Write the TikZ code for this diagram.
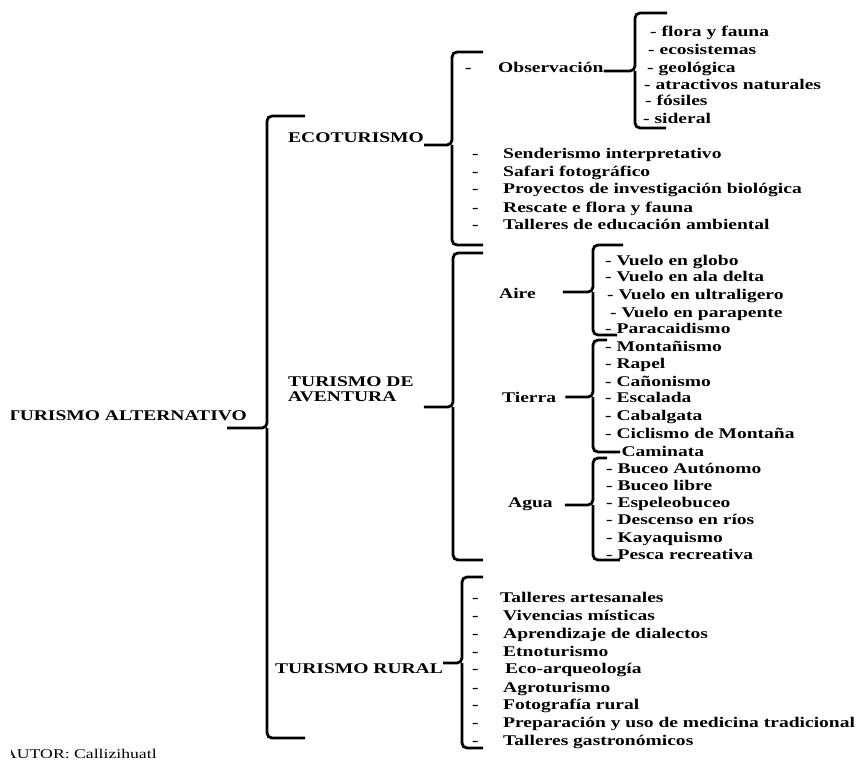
\documentclass[tikz,border=0pt]{standalone}
\usepackage{fontspec}
\setmainfont{Liberation Serif}[FakeStretch=1.32]

\begin{document}
\begin{tikzpicture}[x=1pt, y=-1pt,
  every node/.style={inner sep=0pt, anchor=base west,
    font=\fontsize{14.8}{15}\selectfont\bfseries},
  curly/.style={line width=2.8pt, rounded corners=5pt}]
  \useasboundingbox (0,0) rectangle (857,760);
  \clip (11,0) rectangle (857,760);

  % Root and main branches
  \node[anchor=base east] (root) at (247,420) {TURISMO ALTERNATIVO};
  \node (eco) at (288,142) {ECOTURISMO};
  \node[anchor=north west, align=left] (ave) at (288,376) {TURISMO DE\\AVENTURA};
  \node (rural) at (275,673) {TURISMO RURAL};
  \node[font=\fontsize{13.4}{14}\selectfont] (autor) at (4,758) {AUTOR: Callizihuatl};

  % Ecoturismo
  \node (obsd) at (465,73) {-};
  \node (obs) at (498,73) {Observación};
  \foreach \x/\y/\t [count=\i] in {650/37/- flora y fauna, 648/55/- ecosistemas,
      647/73/- geológica, 644/89/- atractivos naturales, 645/106/- fósiles,
      643/123/- sideral}
    \node (obs\i) at (\x,\y) {\t};
  \foreach \y/\t [count=\i] in {158/Senderismo interpretativo, 176/Safari fotográfico,
      193/Proyectos de investigación biológica, 212/Rescate e flora y fauna,
      229/Talleres de educación ambiental} {
    \node (ecod\i) at (472,\y) {-};
    \node (eco\i) at (503,\y) {\t};
  }

  % Aventura
  \node (aire) at (499,298) {Aire};
  \node (tierra) at (502,402) {Tierra};
  \node (agua) at (508,507) {Agua};
  \foreach \x/\y/\t [count=\i] in {605/265/- Vuelo en globo, 605/281/- Vuelo en ala delta,
      607/299/- Vuelo en ultraligero, 610/317/- Vuelo en parapente, 605/333/- Paracaidismo}
    \node (aire\i) at (\x,\y) {\t};
  \foreach \x/\y/\t [count=\i] in {605/351/- Montañismo, 605/368/- Rapel,
      605/386/- Cañonismo, 605/402/- Escalada, 605/420/- Cabalgata,
      605/438/- Ciclismo de Montaña, 610/456/- Caminata}
    \node (tierra\i) at (\x,\y) {\t};
  \foreach \x/\y/\t [count=\i] in {606/473/- Buceo Autónomo, 606/490/- Buceo libre,
      606/507/- Espeleobuceo, 606/524/- Descenso en ríos, 606/542/- Kayaquismo,
      606/559/- Pesca recreativa}
    \node (agua\i) at (\x,\y) {\t};

  % Rural
  \foreach \x/\y/\t [count=\i] in {500/602/Talleres artesanales, 503/620/Vivencias místicas,
      503/638/Aprendizaje de dialectos, 503/656/Etnoturismo, 505/673/Eco-arqueología,
      503/692/Agroturismo, 503/709/Fotografía rural,
      503/727/Preparación y uso de medicina tradicional, 503/745/Talleres gastronómicos} {
    \node (rurald\i) at (472,\y) {-};
    \node (rural\i) at (\x,\y) {\t};
  }

  % Brace corners and tips
  \coordinate (mTip) at (267,428);  \coordinate (mTop) at (305,116);  \coordinate (mBot) at (305,738);
  \coordinate (eTip) at (452,145);  \coordinate (eTop) at (483,52);   \coordinate (eBot) at (483,245);
  \coordinate (oTip) at (635,71);   \coordinate (oTop) at (667,13);   \coordinate (oBot) at (666,128);
  \coordinate (aTip) at (453,407);  \coordinate (aTop) at (483,253);  \coordinate (aBot) at (483,560);
  \coordinate (airTip) at (593,292); \coordinate (airTop) at (623,245); \coordinate (airBot) at (617,335);
  \coordinate (tiTip) at (593,397); \coordinate (tiTop) at (607,340); \coordinate (tiBot) at (620,452);
  \coordinate (agTip) at (593,505); \coordinate (agTop) at (607,458); \coordinate (agBot) at (620,560);
  \coordinate (ruTip) at (462,663); \coordinate (ruTop) at (483,577); \coordinate (ruBot) at (483,748);

  % Braces
  \draw[curly] (mTop) -| (mTip) -- ([xshift=-20pt]root.east |- mTip);
  \draw[curly] (mBot) -| (mTip);
  \draw[curly] (eTop) -| (eTip) -- (eco.east |- eTip);
  \draw[curly] (eBot) -| (eTip);
  \draw[curly] (oTop) -| (oTip) -- (obs.east |- oTip);
  \draw[curly] (oBot) -| (oTip);
  \draw[curly] (aTop) -| (aTip) -- ([xshift=10pt]ave.east |- aTip);
  \draw[curly] (aBot) -| (aTip);
  \draw[curly] (airTop) -| (airTip) -- ([xshift=27pt]aire.east |- airTip);
  \draw[curly] (airBot) -| (airTip);
  \draw[curly] (tiTop) -| (tiTip) -- ([xshift=9pt]tierra.east |- tiTip);
  \draw[curly] (tiBot) -| (tiTip);
  \draw[curly] (agTop) -| (agTip) -- ([xshift=12pt]agua.east |- agTip);
  \draw[curly] (agBot) -| (agTip);
  \draw[curly] (ruTop) -| (ruTip) -- (rural.east |- ruTip);
  \draw[curly] (ruBot) -| (ruTip);
\end{tikzpicture}
\end{document}
